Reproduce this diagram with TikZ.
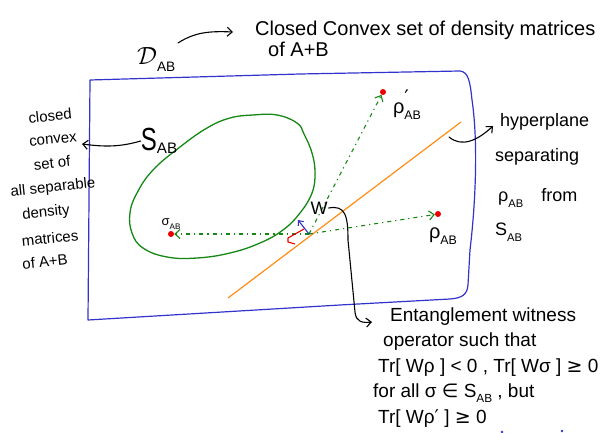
\documentclass[tikz,border=0pt]{standalone}
\usepackage{fontspec}
\usepackage{graphicx}
\setmainfont{Liberation Sans}
\newfontfamily\symf{DejaVu Sans}
\usetikzlibrary{arrows.meta}
\newcommand{\lsub}[2][0.62]{\raisebox{-0.28em}{\scalebox{#1}{#2}}}
\definecolor{gr}{RGB}{20,135,20}
\definecolor{orng}{RGB}{255,140,20}
\definecolor{bl}{RGB}{50,50,205}
\definecolor{rd}{RGB}{235,0,0}
\begin{document}
\begin{tikzpicture}[x=1pt,y=-1pt,
  hand/.style={inner sep=0pt, anchor=base west, font=\fontsize{19}{22}\selectfont},
  rside/.style={inner sep=0pt, anchor=base west, font=\fontsize{18}{20}\selectfont},
  side/.style={inner sep=0pt, font=\fontsize{15}{17}\selectfont},
  ink/.style={line width=1.1pt, black, line cap=round},
  barb/.style={-{Straight Barb[length=5pt,width=9pt]}},
  dd/.style={gr, line width=1.1pt, dash pattern=on 4pt off 4pt on 1.2pt off 4pt},
  reddot/.style={circle, fill=rd, inner sep=0pt, minimum size=6pt}]
\useasboundingbox (0,0) rectangle (614,433);

% outer box D_AB
\draw[bl, line width=1.2pt, line join=round] (90,80) -- (300,74) -- (460,71)
  .. controls (468,72) and (470,80) .. (472,100)
  .. controls (478,140) and (476,200) .. (470,250) -- (468,285)
  .. controls (467,295) and (462,298) .. (450,299) -- (340,305) -- (88,320) -- cycle;

% S_AB region
\draw[gr, line width=1.3pt] plot[smooth cycle, tension=0.7] coordinates {(253,115) (277,115) (297,123) (304,134) (312,153) (315,173) (312,193) (300,213) (283,230) (260,243) (230,253) (197,258) (167,257) (143,248) (132,233) (130,213) (137,193) (153,170) (180,147) (207,128) (230,118)};

% hyperplane
\coordinate (h1) at (228,298);
\coordinate (h2) at (461,122);
\draw[orng, line width=1.2pt] (h1) -- (h2);

% points
\node[reddot] (sig) at (171,234) {};
\node[reddot] (rho) at (438,214) {};
\node[reddot] (rhop) at (383,92) {};
\coordinate (O) at (309,234);
\coordinate (nrm) at (298,220);

\draw[dd, barb] (O) -- (sig);
\draw[dd, barb] (O) -- (rho);
\draw[dd, barb] (O) -- (rhop);

% normal and right-angle mark
\draw[bl, line width=1.1pt, -{Straight Barb[length=4pt,width=7pt]}] (O) -- (nrm);
\draw[rd, line width=1.1pt] (304,229) -- (288,238) -- (288,242) -- (295,244);

% labels of points
\node[inner sep=0pt] (sl) at (171,224) {\fontsize{13}{13}\selectfont σ\lsub{AB}};
\node[inner sep=0pt] (rpl) at (407,105) {\fontsize{20}{20}\selectfont ρ\rlap{\raisebox{0.45em}{\symf ′}}\lsub{AB}};
\node[inner sep=0pt] (rl) at (443,236) {\fontsize{20}{20}\selectfont ρ\lsub{AB}};
\node[inner sep=0pt] (S) at (159,141) {\scalebox{0.75}[1]{\fontsize{32}{32}\selectfont S}\lsub[0.8]{\fontsize{19}{19}\selectfont AB}};

% W
\node[inner sep=1pt, font=\fontsize{18}{18}\selectfont] (W) at (319,208) {W};
\coordinate (ent) at (372,322);
\draw[ink, barb] (W.east) .. controls (345,205) and (348,215) .. (348,240) -- (355,312) .. controls (356,322) and (362,323) .. (ent);

% title
\node[inner sep=0pt, anchor=base west] (D) at (137,65) {\fontsize{24.88}{25}\selectfont$\mathcal{D}$\lsub[0.55]{AB}};
\node[hand, font=\fontsize{20}{22}\selectfont] (t1) at (255,36) {Closed Convex set of density matrices};
\node[hand, font=\fontsize{20}{22}\selectfont] (t2) at (268,57) {of A+B};
\coordinate (Da) at (178,43);
\coordinate (Db) at (233,32);
\draw[ink, barb] (Da) .. controls (195,32) and (210,31) .. (Db);

% left column
\node[side] (l1) at (50,116) {\rotatebox{6}{closed}};
\node[side] (l2) at (53,140) {\rotatebox{6}{convex}};
\node[side] (l3) at (52,163) {\rotatebox{6}{set of}};
\node[side] (l4) at (53,188) {\rotatebox{6}{all separable}};
\node[side] (l5) at (46,213) {\rotatebox{6}{density}};
\node[side] (l6) at (50,238) {\rotatebox{6}{matrices}};
\node[side] (l7) at (45,262) {\rotatebox{6}{of A+B}};
\coordinate (Sarr) at (82,144);
\draw[ink, barb] (S.west) .. controls (120,147) and (105,147) .. (Sarr);

% right column
\node[rside] (r1) at (500,127) {hyperplane};
\node[rside] (r2) at (495,162) {separating};
\node[rside] (r3) at (498,202) {ρ\lsub{AB}\hspace{18pt}from};
\node[rside] (r4) at (495,236) {S\lsub{AB}};
\coordinate (ha) at (449,137);
\coordinate (hb) at (493,126);
\draw[ink, barb] (ha) .. controls (462,148) and (478,140) .. (hb);

% bottom text
\node[hand] (b1) at (390,322) {Entanglement witness};
\node[hand] (b2) at (383,346) {operator such that};
\node[hand] (b3) at (378,372) {Tr[ Wρ ] < 0 , Tr[ Wσ ] {\symf ≥} 0};
\node[hand] (b4) at (373,397) {for all σ {\symf ∈} S\lsub{AB} , but};
\node[hand] (b5) at (378,423) {Tr[ Wρ{\symf ′} ] {\symf ≥} 0};

% cut-off marks at the bottom
\fill[bl] (502,432) circle (1.4pt);
\fill[bl] (562,431) circle (1.4pt);
\end{tikzpicture}
\end{document}
